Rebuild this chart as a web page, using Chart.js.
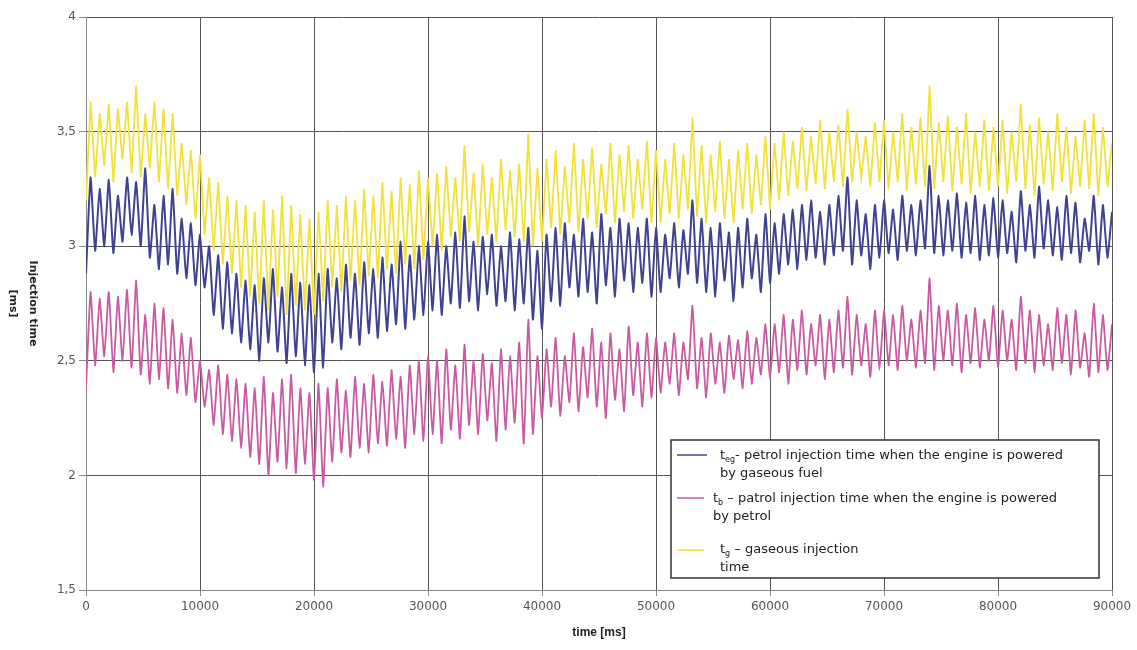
<!DOCTYPE html>
<html>
<head>
<meta charset="utf-8">
<script src="https://cdn.jsdelivr.net/npm/chart.js@4.4.1/dist/chart.umd.min.js"></script>
<style>
  html, body { margin: 0; padding: 0; background: #ffffff; }
  #wrap { width: 1137px; height: 650px; position: relative; }
</style>
</head>
<body>
<div id="wrap"><canvas id="c" width="1137" height="650"></canvas></div>
<script>
// ---- data (sample spacing in ms) ----
const STEP_MS = 400;
const xTicks = [0, 10000, 20000, 30000, 40000, 50000, 60000, 70000, 80000, 90000];
const yTicks = [1.5, 2, 2.5, 3, 3.5, 4];

// t_eg : petrol injection time when the engine is powered by gaseous fuel
const tEg = [
  2.88,3.30,2.98,3.25,3.00,3.29,2.97,3.22,3.02,3.30,3.05,3.28,3.00,3.34,2.95,3.18,2.90,3.22,2.92,3.25,2.88,3.12,2.86,3.10,2.83,
  3.05,2.82,3.00,2.70,2.96,2.64,2.93,2.62,2.88,2.58,2.85,2.55,2.83,2.50,2.86,2.58,2.90,2.54,2.82,2.49,2.88,2.52,2.84,2.48,2.83,
  2.45,2.88,2.47,2.90,2.58,2.86,2.55,2.92,2.60,2.88,2.57,2.93,2.62,2.90,2.60,2.95,2.63,2.92,2.66,3.02,2.64,2.96,2.68,3.00,2.70,
  3.02,2.72,3.05,2.70,3.00,2.75,3.06,2.73,3.13,2.76,3.02,2.72,3.04,2.79,3.05,2.74,3.00,2.76,3.06,2.72,3.03,2.75,3.08,2.68,2.98,
  2.64,3.05,2.76,3.08,2.74,3.10,2.82,3.05,2.78,3.12,2.80,3.06,2.75,3.14,2.83,3.08,2.78,3.12,2.85,3.10,2.80,3.08,2.84,3.12,2.78,
  3.08,2.80,3.05,2.86,3.10,2.82,3.07,2.88,3.20,2.84,3.12,2.80,3.08,2.78,3.10,2.85,3.06,2.76,3.08,2.82,3.12,2.86,3.05,2.80,3.14,
  2.84,3.10,2.88,3.14,2.92,3.16,2.90,3.18,2.94,3.20,2.95,3.15,2.92,3.18,2.96,3.22,2.98,3.30,2.92,3.20,2.96,3.14,2.90,3.18,2.95,
  3.20,2.97,3.16,2.94,3.22,2.98,3.18,2.96,3.20,2.99,3.35,2.97,3.22,2.96,3.20,2.98,3.23,2.95,3.19,2.97,3.22,2.94,3.18,2.96,3.21,
  2.95,3.20,2.97,3.15,2.93,3.24,2.98,3.18,2.95,3.26,2.99,3.20,2.96,3.17,2.94,3.22,2.97,3.19,2.93,3.12,2.98,3.22,2.92,3.18,2.95,
  3.15
];

// t_b : petrol injection time when the engine is powered by petrol
const tB = [
  2.38,2.80,2.48,2.77,2.52,2.80,2.45,2.78,2.50,2.81,2.47,2.85,2.44,2.70,2.40,2.75,2.42,2.73,2.38,2.68,2.36,2.62,2.35,2.60,2.32,
  2.50,2.30,2.46,2.22,2.48,2.18,2.44,2.15,2.42,2.12,2.40,2.08,2.38,2.05,2.43,2.00,2.36,2.06,2.42,2.03,2.44,2.01,2.38,2.05,2.36,
  1.98,2.40,1.95,2.38,2.06,2.42,2.10,2.37,2.08,2.43,2.12,2.40,2.10,2.44,2.14,2.41,2.13,2.46,2.16,2.43,2.12,2.48,2.18,2.50,2.15,
  2.52,2.18,2.50,2.14,2.55,2.20,2.48,2.16,2.57,2.22,2.50,2.18,2.53,2.24,2.49,2.15,2.55,2.20,2.52,2.23,2.58,2.14,2.68,2.18,2.52,
  2.25,2.55,2.30,2.60,2.26,2.52,2.32,2.62,2.28,2.56,2.34,2.64,2.30,2.58,2.25,2.62,2.33,2.55,2.28,2.65,2.35,2.58,2.30,2.62,2.34,
  2.60,2.36,2.58,2.40,2.62,2.35,2.58,2.42,2.74,2.38,2.60,2.34,2.62,2.40,2.58,2.36,2.61,2.42,2.59,2.38,2.63,2.40,2.60,2.44,2.66,
  2.42,2.66,2.45,2.70,2.40,2.68,2.46,2.72,2.44,2.66,2.48,2.70,2.42,2.68,2.45,2.72,2.47,2.78,2.44,2.70,2.48,2.66,2.43,2.72,2.46,
  2.72,2.48,2.70,2.46,2.74,2.50,2.68,2.47,2.72,2.49,2.86,2.46,2.74,2.50,2.72,2.48,2.75,2.45,2.70,2.49,2.73,2.47,2.68,2.50,2.74,
  2.47,2.72,2.50,2.68,2.46,2.78,2.49,2.72,2.45,2.70,2.48,2.66,2.46,2.73,2.49,2.70,2.44,2.72,2.47,2.62,2.43,2.75,2.45,2.70,2.46,
  2.66
];

// t_g : gaseous injection time
const tG = [
  3.20,3.63,3.30,3.58,3.35,3.62,3.28,3.60,3.38,3.63,3.32,3.70,3.30,3.58,3.34,3.63,3.28,3.60,3.25,3.58,3.22,3.45,3.18,3.42,3.12,
  3.40,3.05,3.30,2.98,3.28,2.92,3.22,2.88,3.20,2.82,3.18,2.78,3.15,2.75,3.20,2.72,3.16,2.78,3.22,2.70,3.18,2.74,3.14,2.72,3.12,
  2.70,3.15,2.76,3.20,2.82,3.18,2.80,3.22,2.85,3.20,2.83,3.25,2.87,3.22,2.86,3.28,2.90,3.24,2.88,3.30,2.92,3.27,2.90,3.33,2.94,
  3.30,3.00,3.32,2.98,3.35,3.04,3.30,3.02,3.44,3.06,3.32,3.00,3.36,3.05,3.30,3.02,3.38,3.07,3.33,3.04,3.36,3.02,3.49,3.00,3.34,
  3.02,3.38,3.08,3.42,3.05,3.35,3.10,3.45,3.06,3.38,3.12,3.43,3.08,3.36,3.14,3.45,3.10,3.40,3.15,3.44,3.12,3.38,3.16,3.46,3.10,
  3.42,3.10,3.38,3.14,3.45,3.12,3.40,3.16,3.56,3.13,3.44,3.10,3.40,3.15,3.46,3.12,3.38,3.10,3.42,3.16,3.45,3.14,3.40,3.18,3.48,
  3.16,3.45,3.20,3.50,3.22,3.46,3.25,3.52,3.24,3.48,3.27,3.55,3.25,3.50,3.28,3.53,3.26,3.60,3.28,3.50,3.30,3.48,3.26,3.54,3.28,
  3.55,3.25,3.50,3.28,3.58,3.24,3.52,3.27,3.56,3.26,3.70,3.25,3.54,3.28,3.57,3.24,3.52,3.27,3.58,3.23,3.50,3.26,3.55,3.24,3.52,
  3.26,3.55,3.23,3.50,3.28,3.62,3.25,3.53,3.22,3.56,3.27,3.50,3.24,3.58,3.28,3.52,3.23,3.48,3.26,3.55,3.25,3.58,3.22,3.52,3.26,
  3.45
];

const COL_EG = '#3f4290';
const COL_B  = '#c95aa2';
const COL_G  = '#f0e23a';

const toPoints = arr => arr.map((v, i) => ({ x: i * STEP_MS, y: v }));

const FONT = '"Liberation Sans", Arial, sans-serif';
const WFONT = '"DejaVu Sans", Verdana, sans-serif';

const decor = {
  id: 'decor',
  afterDraw(chart) {
    const ctx = chart.ctx;
    const ca = chart.chartArea;
    ctx.save();
    // x title
    ctx.fillStyle = '#222';
    ctx.font = 'bold 12px ' + FONT;
    ctx.textAlign = 'center';
    ctx.textBaseline = 'middle';
    ctx.fillText('time [ms]', (ca.left + ca.right) / 2, 633);
    // y title (rotated clockwise)
    ctx.save();
    ctx.translate(33, (ca.top + ca.bottom) / 2);
    ctx.rotate(Math.PI / 2);
    ctx.font = 'bold 11px ' + WFONT;
    ctx.fillText('Injection time', 0, 0);
    ctx.fillText('[ms]', 0, 20);
    ctx.restore();

    // legend box
    const bx = 671, by = 440, bw = 428, bh = 138;
    ctx.fillStyle = '#ffffff';
    ctx.fillRect(bx, by, bw, bh);
    ctx.strokeStyle = '#333';
    ctx.lineWidth = 1.5;
    ctx.strokeRect(bx, by, bw, bh);

    const entries = [
      { color: COL_EG, sx0: 677, sx1: 707, sy: 455, tx: 720, y1: 456, y2: 474,
        sub: 'eg', rest: '- petrol injection time when the engine is powered', line2: 'by gaseous fuel' },
      { color: COL_B, sx0: 677, sx1: 704, sy: 498, tx: 713, y1: 499, y2: 517,
        sub: 'b', rest: ' \u2013 patrol injection time when the engine is powered', line2: 'by petrol' },
      { color: COL_G, sx0: 677, sx1: 704, sy: 550, tx: 720, y1: 550, y2: 568,
        sub: 'g', rest: ' \u2013 gaseous injection', line2: 'time' }
    ];
    entries.forEach(e => {
      ctx.strokeStyle = e.color;
      ctx.lineWidth = 1.5;
      ctx.beginPath();
      ctx.moveTo(e.sx0, e.sy);
      ctx.lineTo(e.sx1, e.sy);
      ctx.stroke();

      ctx.fillStyle = '#222';
      ctx.textAlign = 'left';
      ctx.textBaseline = 'middle';
      ctx.font = '13px ' + WFONT;
      let x = e.tx;
      ctx.fillText('t', x, e.y1);
      x += ctx.measureText('t').width;
      ctx.font = '8px ' + WFONT;
      ctx.fillText(e.sub, x, e.y1 + 4);
      x += ctx.measureText(e.sub).width;
      ctx.font = '13px ' + WFONT;
      ctx.fillText(e.rest, x, e.y1);
      ctx.fillText(e.line2, e.tx, e.y2);
    });
    ctx.restore();
  }
};

new Chart(document.getElementById('c'), {
  type: 'line',
  data: {
    datasets: [
      { label: 't_eg', data: toPoints(tEg), borderColor: COL_EG, borderWidth: 2, pointRadius: 0, tension: 0.15, fill: false },
      { label: 't_b',  data: toPoints(tB),  borderColor: COL_B,  borderWidth: 1.8, pointRadius: 0, tension: 0.15, fill: false },
      { label: 't_g',  data: toPoints(tG),  borderColor: COL_G,  borderWidth: 1.8, pointRadius: 0, tension: 0, fill: false }
    ]
  },
  options: {
    responsive: false,
    animation: false,
    layout: { padding: { top: 17, right: 25, left: 0, bottom: 0 } },
    plugins: { legend: { display: false }, tooltip: { enabled: false } },
    scales: {
      x: {
        type: 'linear',
        min: xTicks[0],
        max: xTicks[xTicks.length - 1],
        afterBuildTicks: s => { s.ticks = xTicks.map(v => ({ value: v })); },
        afterFit: s => { s.height = 60; },
        ticks: {
          color: '#555', font: { family: WFONT, size: 12 }, padding: 4, maxRotation: 0, autoSkip: false,
          callback: v => String(v)
        },
        grid: { color: '#555', lineWidth: 1, tickLength: 6, tickColor: '#888' },
        border: { color: '#888', width: 1 }
      },
      y: {
        min: yTicks[0],
        max: yTicks[yTicks.length - 1],
        afterBuildTicks: s => { s.ticks = yTicks.map(v => ({ value: v })); },
        afterFit: s => { s.width = 86; },
        ticks: {
          color: '#555', font: { family: WFONT, size: 12 }, padding: 3,
          callback: v => String(v).replace('.', ',')
        },
        grid: { color: '#555', lineWidth: 1, tickLength: 7, tickColor: '#888' },
        border: { color: '#888', width: 1 }
      }
    }
  },
  plugins: [decor]
});
</script>
</body>
</html>
